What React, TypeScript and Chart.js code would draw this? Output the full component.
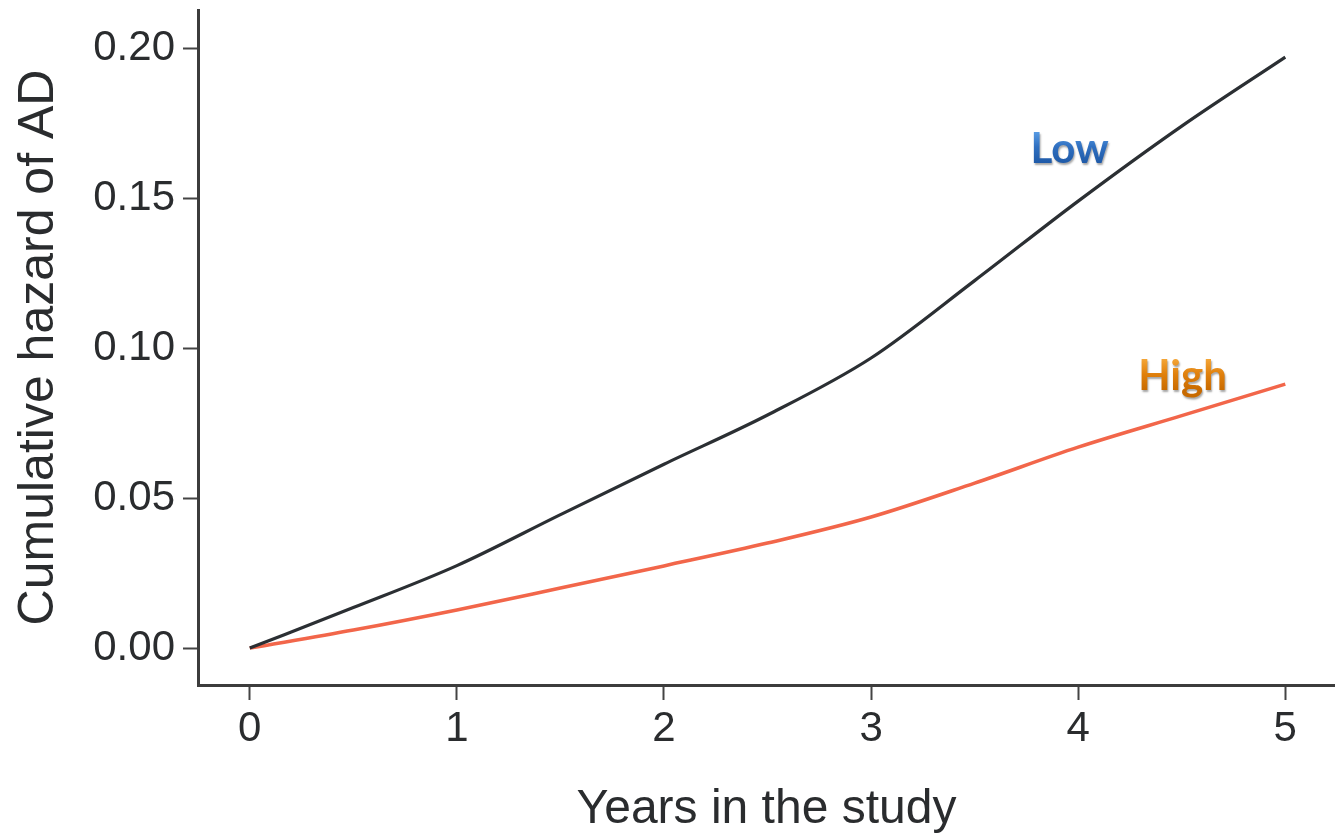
import React, { useEffect, useRef } from "react";
import { Chart, registerables } from "chart.js";
Chart.register(...registerables);

const years = [0, 0.5, 1, 1.5, 2, 2.5, 3, 3.5, 4, 4.5, 5];
const lowHazard = [0, 0.0135, 0.0275, 0.0445, 0.0613, 0.0777, 0.0967, 0.1225, 0.149, 0.174, 0.197];
const highHazard = [0, 0.006, 0.0127, 0.02, 0.0274, 0.035, 0.0437, 0.055, 0.067, 0.0775, 0.088];
const xTicks = [0, 1, 2, 3, 4, 5];
const yTicks = [0, 0.05, 0.1, 0.15, 0.2];
const seriesNames = ["Low", "High"];
const labelX = [3.77, 4.29];
const labelY = [0.1617, 0.086];
const xTitle = "Years in the study";
const yTitle = "Cumulative hazard of AD";

const FONT = "'Liberation Sans', Arial, Helvetica, sans-serif";

export default function App() {
  const ref = useRef<HTMLCanvasElement>(null);
  useEffect(() => {
    document.body.style.margin = "0";
    const canvas = ref.current!;
    const labelPlugin = {
      id: "seriesLabels",
      afterDatasetsDraw(chart: any) {
        const { ctx, scales } = chart;
        const gradients = [
          ["#5a9ee6", "#2f6fc0", "#1f5aa8"],
          ["#f5a83a", "#e0800c", "#c86a00"],
        ];
        seriesNames.forEach((name, i) => {
          const px = scales.x.getPixelForValue(labelX[i]);
          const py = scales.y.getPixelForValue(labelY[i]);
          ctx.save();
          ctx.font = `bold 42px Lato, 'Open Sans', sans-serif`;
          ctx.textAlign = "left";
          ctx.textBaseline = "alphabetic";
          const g = ctx.createLinearGradient(0, py - 32, 0, py);
          g.addColorStop(0, gradients[i][0]);
          g.addColorStop(0.5, gradients[i][1]);
          g.addColorStop(1, gradients[i][2]);
          ctx.shadowColor = "rgba(0,0,0,0.35)";
          ctx.shadowOffsetX = 1;
          ctx.shadowOffsetY = 1.5;
          ctx.shadowBlur = 2;
          ctx.fillStyle = g;
          ctx.fillText(name, px, py);
          ctx.restore();
        });
      },
    };
    const chart = new Chart(canvas, {
      type: "line",
      data: {
        datasets: [
          {
            label: seriesNames[0],
            data: years.map((x, i) => ({ x, y: lowHazard[i] })),
            borderColor: "#2b2f33",
            borderWidth: 3.2,
            pointRadius: 0,
            cubicInterpolationMode: "monotone",
          },
          {
            label: seriesNames[1],
            data: years.map((x, i) => ({ x, y: highHazard[i] })),
            borderColor: "#f2664a",
            borderWidth: 3.6,
            pointRadius: 0,
            cubicInterpolationMode: "monotone",
          },
        ],
      },
      options: {
        animation: false,
        responsive: false,
        layout: { padding: { top: 10, left: 0, right: 0, bottom: 0 } },
        plugins: { legend: { display: false }, tooltip: { enabled: false } },
        scales: {
          x: {
            type: "linear",
            min: -0.25,
            max: 5.24,
            afterBuildTicks: (s: any) => {
              s.ticks = xTicks.map((v) => ({ value: v }));
            },
            afterFit: (s: any) => {
              s.height = 152;
              s.paddingLeft = 0;
              s.paddingRight = 0;
            },
            grid: {
              display: true,
              drawOnChartArea: false,
              drawTicks: true,
              tickLength: 15,
              tickWidth: 2,
              tickColor: "#444",
            },
            border: { display: true, color: "#3c3c3c", width: 3 },
            ticks: {
              autoSkip: false,
              maxRotation: 0,
              padding: 4,
              color: "#2a2c2e",
              font: { family: FONT, size: 42 },
              callback: (v: any) => String(v),
            },
            title: {
              display: true,
              text: xTitle,
              color: "#2a2c2e",
              font: { family: FONT, size: 48 },
              padding: { top: 0, bottom: -2 },
            },
          },
          y: {
            type: "linear",
            min: -0.0123,
            max: 0.2127,
            afterBuildTicks: (s: any) => {
              s.ticks = yTicks.map((v) => ({ value: v }));
            },
            afterFit: (s: any) => {
              s.width = 198;
              s.paddingTop = 0;
              s.paddingBottom = 0;
            },
            grid: {
              display: true,
              drawOnChartArea: false,
              drawTicks: true,
              tickLength: 15,
              tickWidth: 2,
              tickColor: "#444",
            },
            border: { display: true, color: "#3c3c3c", width: 3 },
            ticks: {
              autoSkip: false,
              padding: 8,
              color: "#2a2c2e",
              font: { family: FONT, size: 42 },
              callback: (v: any) => Number(v).toFixed(2),
            },
            title: {
              display: true,
              text: yTitle,
              color: "#2a2c2e",
              font: { family: FONT, size: 50 },
              padding: { top: 9, bottom: 0 },
            },
          },
        },
      },
      plugins: [labelPlugin],
    } as any);
    return () => chart.destroy();
  }, []);
  return (
    <div style={{ width: 1335, height: 837, position: "relative", background: "#fff" }}>
      <canvas ref={ref} width={1335} height={837} style={{ display: "block" }} />
    </div>
  );
}
